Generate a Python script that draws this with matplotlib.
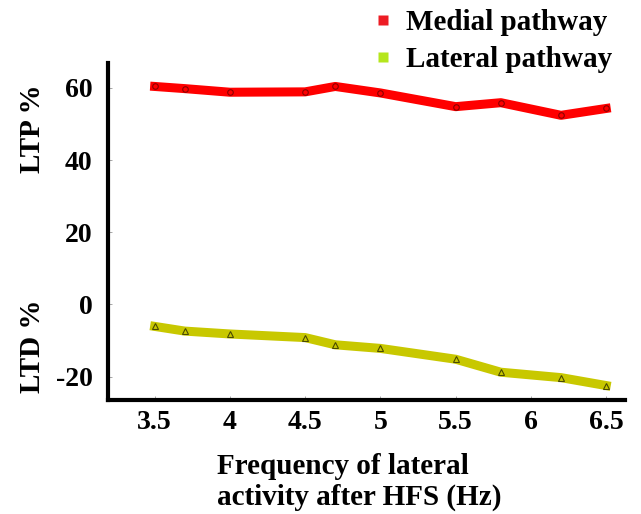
#!/usr/bin/env python3

import matplotlib
matplotlib.use("Agg")
from matplotlib import pyplot as plt
from matplotlib.lines import Line2D

# frequency of lateral activity after HFS (Hz)
freq = [3.5, 3.7, 4.0, 4.5, 4.7, 5.0, 5.5, 5.8, 6.2, 6.5]
# LTP (%) in the medial pathway
medial = [60.4, 59.8, 58.8, 58.9, 60.4, 58.6, 54.8, 55.9, 52.4, 54.3]
# LTD (%) in the lateral pathway
lateral = [-6.1, -7.4, -8.2, -9.2, -11.2, -12.2, -15.2, -18.8, -20.3, -22.5]

xticks = [3.5, 4, 4.5, 5, 5.5, 6, 6.5]
xtick_labels = ["3.5", "4", "4.5", "5", "5.5", "6", "6.5"]
yticks = [-20, 0, 20, 40, 60]

plt.rcParams['font.family'] = ['Liberation Serif', 'DejaVu Serif']
plt.rcParams['font.weight'] = 'bold'
plt.rcParams['axes.unicode_minus'] = False

W, H = 641, 514
fig = plt.figure(figsize=(W / 100, H / 100), dpi=100)
# axes box in pixels: left 108, right 625, top 63, bottom 400
ax = fig.add_axes([108 / W, 1 - 400 / H, (625 - 108) / W, (400 - 63) / H])

ax.plot(freq, medial, color='#ff0000', lw=6.5, solid_joinstyle='round',
        marker='o', ms=4, mfc='none', mec='#8b0000', mew=0.8)
ax.plot(freq, lateral, color='#c8c800', lw=6.5, solid_joinstyle='round',
        marker='^', ms=4, mfc='none', mec='#4a4a00', mew=0.8)

ax.set_xlim(3.19, 6.625)
ax.set_ylim(-26.5, 66.9)
ax.set_xticks(xticks)
ax.set_xticklabels(xtick_labels)
ax.set_yticks(yticks)

for s in ['top', 'right']:
    ax.spines[s].set_visible(False)
for s in ['left', 'bottom']:
    ax.spines[s].set_linewidth(3)
    ax.spines[s].set_capstyle('projecting')

ax.tick_params(direction='in', length=3, width=0.6, color='#999999',
               labelsize=20)
ax.tick_params(axis='y', pad=11)
ax.tick_params(axis='x', pad=7)
for lab in ax.get_xticklabels() + ax.get_yticklabels():
    lab.set_fontweight('bold')

fig.text(32 / W, 1 - 129 / H, "LTP %", rotation=90, ha='center', va='center',
         fontsize=21, fontweight='bold')
fig.text(32 / W, 1 - 346 / H, "LTD %", rotation=90, ha='center', va='center',
         fontsize=21, fontweight='bold')
fig.text(217 / W, 1 - 482 / H, "Frequency of lateral\nactivity after HFS (Hz)",
         ha='left', va='center', multialignment='left', fontsize=21,
         fontweight='bold', linespacing=1.15)

handles = [
    Line2D([], [], ls='none', marker='s', ms=7, mfc='#ed1c24', mec='none'),
    Line2D([], [], ls='none', marker='s', ms=7, mfc='#b5e61d', mec='none'),
]
fig.legend(handles, ["Medial pathway", "Lateral pathway"],
           loc='upper left', bbox_to_anchor=(345 / W, 1 + 17 / H),
           frameon=False, handlelength=0.8, handletextpad=0.4,
           labelspacing=0.35, prop={'weight': 'bold', 'size': 21})

fig.savefig("out.png", dpi=100)
